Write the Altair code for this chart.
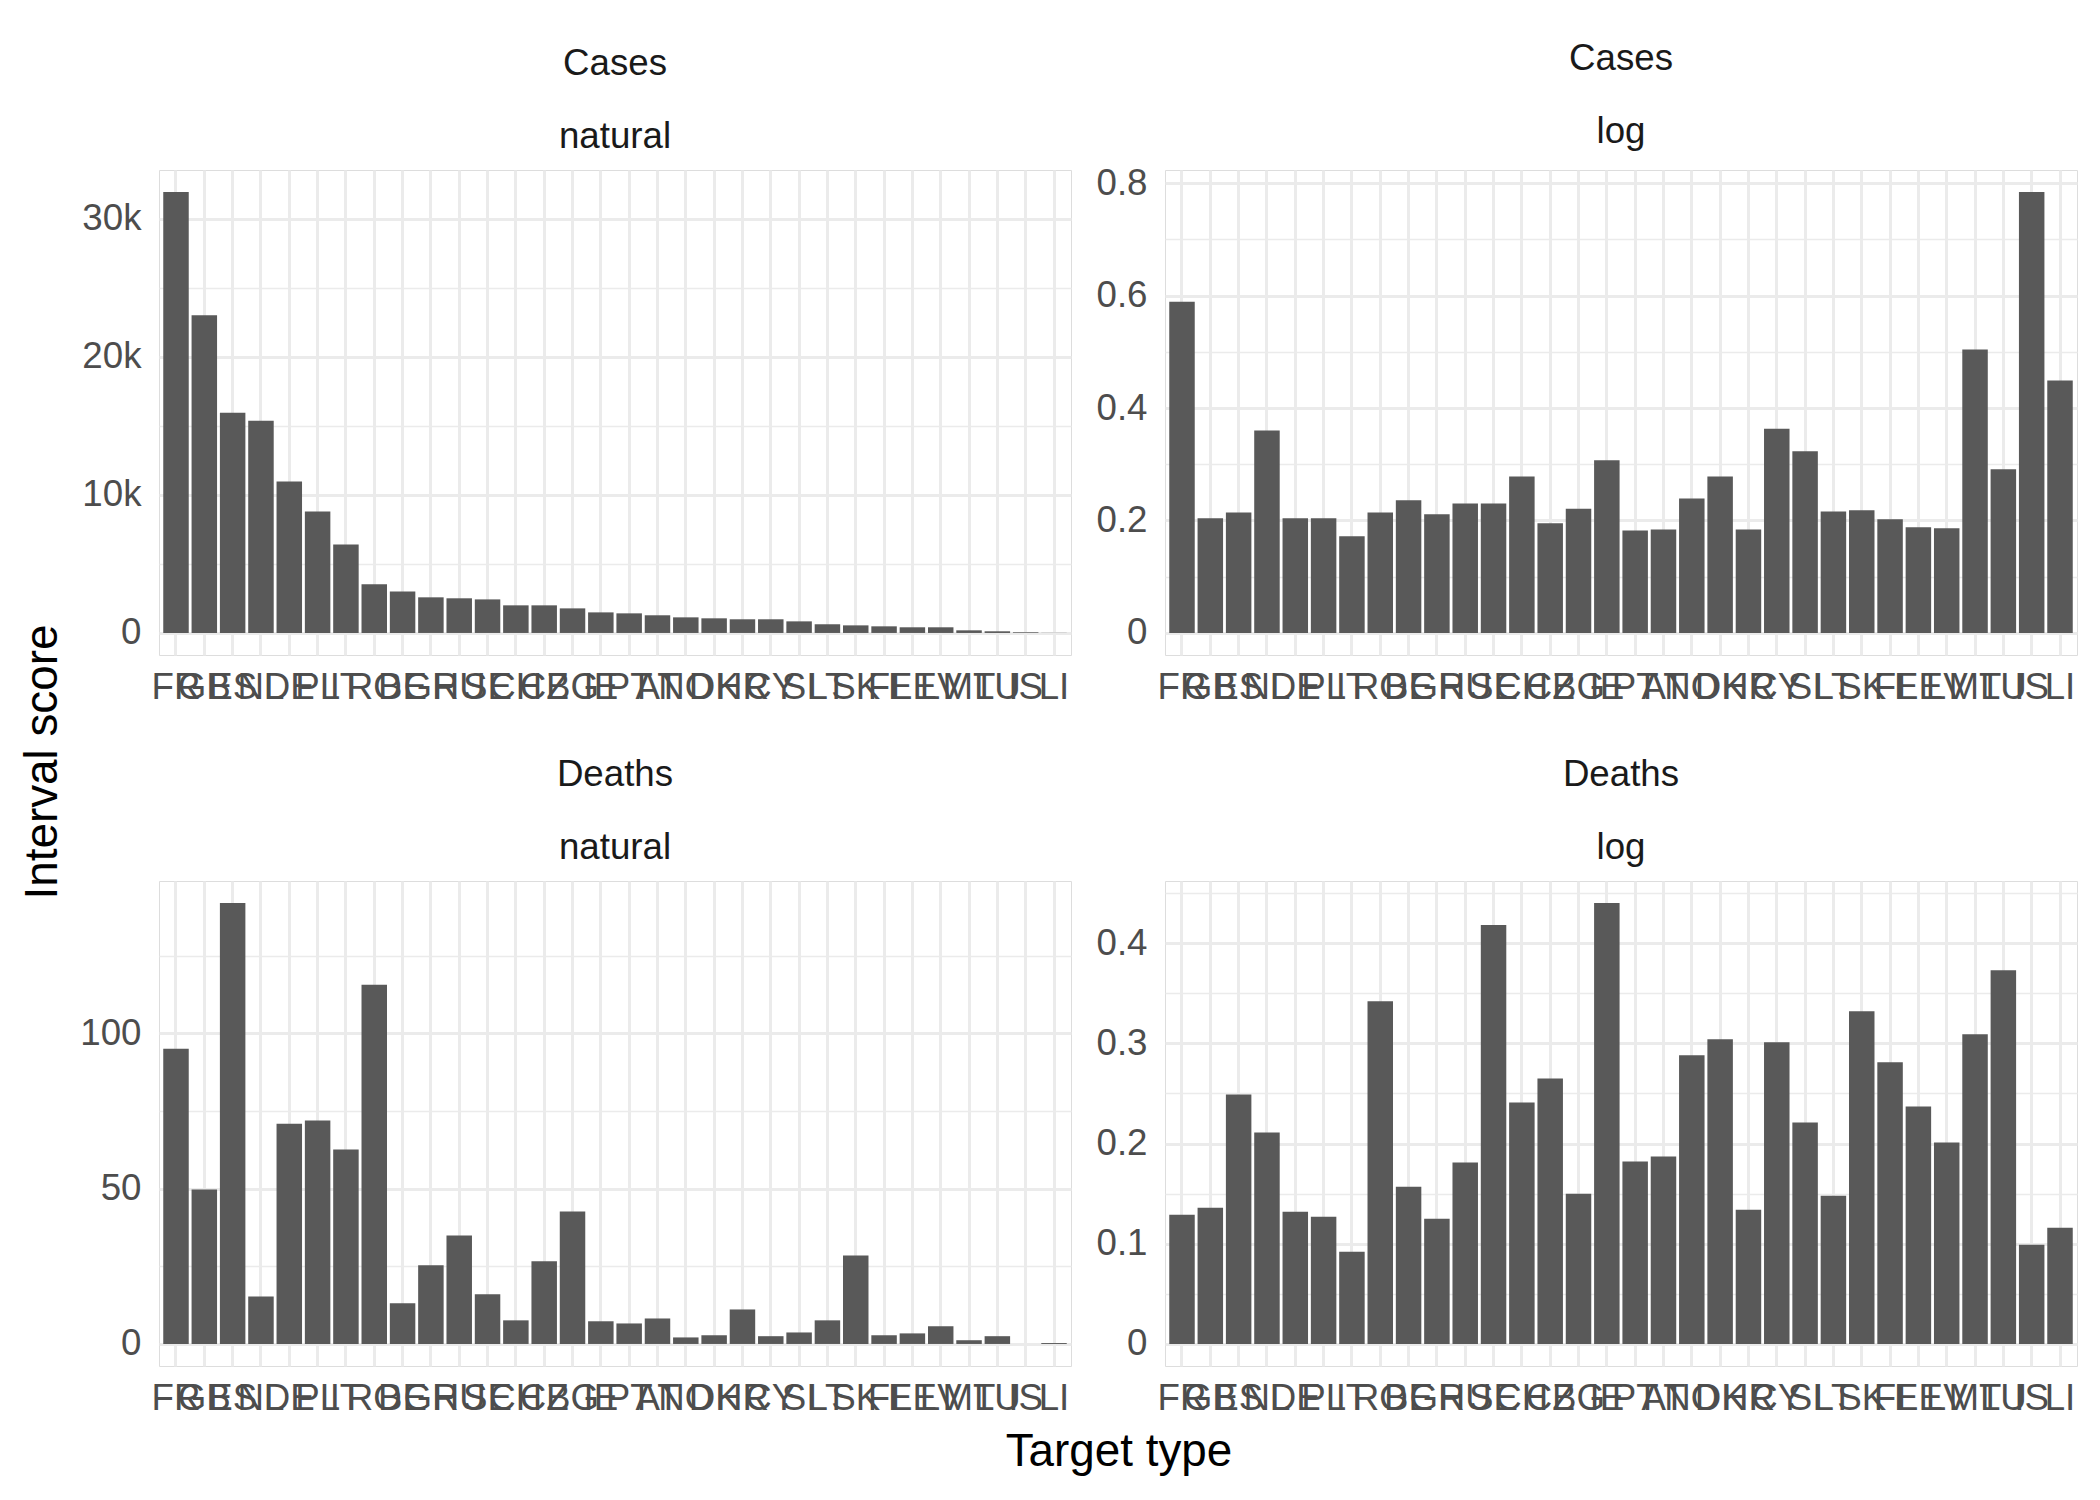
import altair as alt
import pandas as pd

countries = ["FR", "GB", "ES", "NL", "DE", "PL", "IT", "RO", "BE", "GR", "HU", "SE",
             "CH", "CZ", "BG", "IE", "PT", "AT", "NO", "DK", "HR", "CY", "SI", "LT",
             "SK", "FI", "EE", "LV", "MT", "LU", "IS", "LI"]

cases_natural = [31930, 23000, 15950, 15370, 10960, 8800, 6410, 3520, 3010, 2580, 2510, 2430,
                 2000, 2000, 1780, 1490, 1420, 1280, 1130, 1060, 990, 990, 840, 630,
                 550, 480, 410, 410, 190, 120, 50, 10]
cases_log = [0.589, 0.204, 0.214, 0.360, 0.204, 0.204, 0.172, 0.214, 0.236, 0.211, 0.230, 0.230,
             0.278, 0.195, 0.221, 0.307, 0.182, 0.184, 0.239, 0.278, 0.184, 0.363, 0.323, 0.216,
             0.218, 0.202, 0.188, 0.186, 0.504, 0.291, 0.784, 0.449]
deaths_natural = [95.0, 49.7, 141.9, 15.3, 70.9, 71.9, 62.6, 115.6, 13.1, 25.3, 34.9, 16.0,
                  7.6, 26.6, 42.6, 7.3, 6.6, 8.2, 2.1, 2.8, 11.1, 2.5, 3.7, 7.6,
                  28.5, 2.8, 3.4, 5.7, 1.2, 2.5, 0.0, 0.3]
deaths_log = [0.129, 0.136, 0.249, 0.211, 0.132, 0.127, 0.092, 0.342, 0.157, 0.125, 0.181, 0.418,
              0.241, 0.265, 0.150, 0.440, 0.182, 0.187, 0.288, 0.304, 0.134, 0.301, 0.221, 0.148,
              0.332, 0.281, 0.237, 0.201, 0.309, 0.373, 0.099, 0.116]

FONT = "Liberation Sans"
FS = 36.7
GRID = "#EBEBEB"


def panel(values, target, scale_name, major, minor, label_expr=None):
    df = pd.DataFrame({"country": countries, "value": values, "zero": [0] * len(values)})
    vmax = max(values)
    yscale = alt.Scale(domain=[-0.05 * vmax, 1.05 * vmax], nice=False, zero=False)
    x = alt.X("country:N", sort=countries,
              scale=alt.Scale(paddingInner=0.1, paddingOuter=0.15),
              axis=alt.Axis(title=None, labelAngle=0, labelFontSize=FS, labelFont=FONT,
                            labelColor="#4D4D4D", ticks=False, domain=False, grid=True,
                            gridColor=GRID, gridWidth=3, bandPosition=0.5, labelPadding=14))
    major_axis = dict(values=major, title=None, labelFontSize=FS, labelFont=FONT,
                      labelColor="#4D4D4D", ticks=False, domain=False, grid=True,
                      gridColor=GRID, gridWidth=3, labelPadding=18, orient="left")
    if label_expr:
        major_axis["labelExpr"] = label_expr
    minor_layer = alt.Chart(df).mark_bar(opacity=0).encode(
        x=x,
        y=alt.Y("value:Q", scale=yscale,
                axis=alt.Axis(values=minor, title=None, labels=False, ticks=False,
                              domain=False, grid=True, gridColor=GRID, gridWidth=1.5,
                              orient="left")),
    )
    bars = alt.Chart(df).mark_bar(color="#595959").encode(
        x=x,
        y=alt.Y("value:Q", scale=yscale, axis=alt.Axis(**major_axis)),
        y2="zero:Q",
    )
    return alt.layer(minor_layer, bars).resolve_axis(y="independent").properties(
        width=912, height=485,
        title=alt.TitleParams([target, scale_name], fontSize=FS, font=FONT, color="#1A1A1A",
                              fontWeight="normal", lineHeight=73, offset=14, anchor="middle"),
    )


p1 = panel(cases_natural, "Cases", "natural", [0, 10000, 20000, 30000],
           [5000, 15000, 25000],
           label_expr="datum.value == 0 ? '0' : format(datum.value / 1000, 'd') + 'k'")
p2 = panel(cases_log, "Cases", "log", [0, 0.2, 0.4, 0.6, 0.8], [0.1, 0.3, 0.5, 0.7],
           label_expr="datum.value == 0 ? '0' : format(datum.value, '.1f')")
p3 = panel(deaths_natural, "Deaths", "natural", [0, 50, 100], [25, 75, 125])
p4 = panel(deaths_log, "Deaths", "log", [0, 0.1, 0.2, 0.3, 0.4], [0.05, 0.15, 0.25, 0.35, 0.45],
           label_expr="datum.value == 0 ? '0' : format(datum.value, '.1f')")

grid = alt.concat(p1, p2, p3, p4, columns=2, bounds="flush",
                  spacing=alt.RowColnumber(row=226, column=94)).properties(
    title=alt.TitleParams("Interval score", orient="left", fontSize=45.8, font=FONT,
                          color="black", fontWeight="normal", offset=12, anchor="middle",
                          dx=-33)
)
chart = alt.vconcat(grid).properties(
    title=alt.TitleParams("Target type", orient="bottom", fontSize=45.8, font=FONT,
                          color="black", fontWeight="normal", offset=13, anchor="middle",
                          dx=70),
    padding={"left": 20, "top": 40, "right": 20, "bottom": 10},
).configure_view(stroke=None).configure(background="white")

chart.save("out.html", embed_options={"renderer": "svg", "actions": False})
